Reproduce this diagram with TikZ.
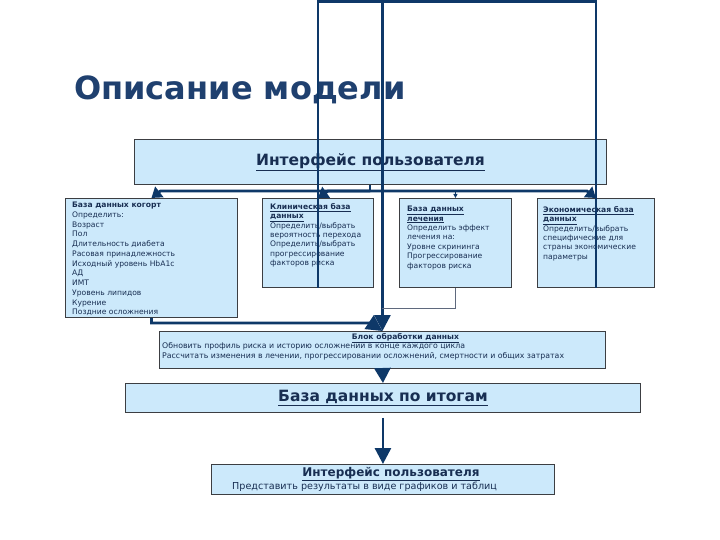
\documentclass[tikz,border=0pt]{standalone}
\usepackage{fontspec}
\setmainfont{DejaVu Sans}
\usetikzlibrary{arrows.meta}
\definecolor{boxfill}{RGB}{204,233,251}
\definecolor{boxline}{RGB}{60,62,66}
\definecolor{navy}{RGB}{14,56,104}
\definecolor{titleblue}{RGB}{31,64,111}
\definecolor{txtblue}{RGB}{24,46,82}
\definecolor{thinline}{RGB}{95,105,125}
\tikzset{
	box/.style={draw=boxline, fill=boxfill, line width=0.9pt, inner sep=0pt, anchor=north west, text=txtblue},
	txt/.style={anchor=north west, align=left, inner sep=0pt, text=txtblue, font=\fontsize{7.6}{9.4}\selectfont},
	conn/.style={draw=navy, line width=2.8pt},
	tip/.style={-{Triangle[width=13pt,length=10pt]}},
	bigtip/.style={-{Triangle[width=16pt,length=16pt]}},
}
\begin{document}
\begin{tikzpicture}[x=1pt,y=-1pt]
	\useasboundingbox (0,0) rectangle (720,540);
	
	\node[anchor=base west, inner sep=0pt, text=titleblue, font=\fontsize{32}{36}\selectfont\bfseries] (title) at (74,100) {Описание модели};
	
	\node[box, minimum width=472pt, minimum height=45pt, font=\fontsize{15.5}{18}\selectfont\bfseries] (ui) at (134,139) {\underline{Интерфейс пользователя}};
	
	\node[box, minimum width=172pt, minimum height=119pt] (cohort) at (65,198) {};
	\node[box, minimum width=111pt, minimum height=89pt] (clin) at (262,198) {};
	\node[box, minimum width=112pt, minimum height=89pt] (treat) at (399,198) {};
	\node[box, minimum width=117pt, minimum height=89pt] (econ) at (537,198) {};
	
	\node[txt, font=\fontsize{7.6}{9.75}\selectfont] (cohorttxt) at ([xshift=7pt,yshift=-4pt]cohort.north west) {\textbf{База данных когорт}\\Определить:\\Возраст\\Пол\\Длительность диабета\\Расовая принадлежность\\Исходный уровень HbA1c\\АД\\ИМТ\\Уровень липидов\\Курение\\Поздние осложнения};
	\node[txt] (clintxt) at ([xshift=8pt,yshift=-5pt]clin.north west) {\textbf{\underline{Клиническая база}}\\\textbf{\underline{данных}}\\Определить/выбрать\\вероятность перехода\\Определить/выбрать\\прогрессирование\\факторов риска};
	\node[txt] (treattxt) at ([xshift=8pt,yshift=-8pt]treat.north west) {\textbf{\underline{База данных}}\\\textbf{\underline{лечения}}\\Определить эффект\\лечения на:\\Уровне скрининга\\Прогрессирование\\факторов риска};
	\node[txt] (econtxt) at ([xshift=6pt,yshift=-8pt]econ.north west) {\textbf{\underline{Экономическая база}}\\\textbf{\underline{данных}}\\Определить/выбрать\\специфические для\\страны экономические\\параметры};
	
	\node[box, minimum width=446pt, minimum height=37pt] (block) at (159,331) {};
	\node[txt, anchor=north] (blocktitle) at ([xshift=23pt,yshift=-2pt]block.north) {\textbf{\underline{Блок обработки данных}}};
	\node[txt, font=\fontsize{7.8}{10.5}\selectfont] (blocktxt) at ([xshift=3pt,yshift=-11pt]block.north west) {Обновить профиль риска и историю осложнений в конце каждого цикла\\Рассчитать изменения в лечении, прогрессировании осложнений, смертности и общих затратах};
	
	\node[box, minimum width=515pt, minimum height=29pt, font=\fontsize{15.5}{18}\selectfont\bfseries] (results) at (125,383) {\underline{База данных по итогам}};
	
	\node[box, minimum width=343pt, minimum height=30pt] (final) at (211,464) {};
	\node[txt, anchor=north, font=\fontsize{12}{14}\selectfont\bfseries] (finaltitle) at ([xshift=8pt,yshift=-3pt]final.north) {\underline{Интерфейс пользователя}};
	\node[txt, font=\fontsize{9.6}{11}\selectfont] (finaltxt) at ([xshift=21pt,yshift=-18pt]final.north west) {Представить результаты в виде графиков и таблиц};
	
	% branches under the top interface
	\coordinate (bus) at (370,191);
	\coordinate (top) at (0,1.5);
	\draw[conn] (ui.south -| bus) -- (bus);
	\draw[conn,tip] (bus) -- ([xshift=9pt,yshift=7pt]cohort.north) -- (cohort.north);
	\draw[conn,tip] (bus) -- ([xshift=10pt,yshift=7pt]clin.north) -- (clin.north);
	\draw[conn,tip] (bus) -- ([xshift=-9pt,yshift=7pt]econ.north) -- (econ.north);
	\draw[navy,line width=1pt,-{Triangle[width=4pt,length=4pt]}] (bus -| treat.north) -- (treat.north);
	
	% loops over the top
	\draw[conn] (clin.south) -- (clin.south |- top) -- (econ.south |- top) -- (econ.south);
	\draw[conn,bigtip] (block.north |- top) -- (block.north);
	
	\draw[thinline,line width=1pt] (treat.south) |- ([yshift=23pt]block.north);
	\draw[conn,bigtip] (cohort.south) |- ([xshift=-12pt,yshift=8pt]block.north) -- (block.north);
	
	\draw[conn,-{Triangle[width=16pt,length=15pt]}] (block.south) -- (results.north);
	\draw[conn,bigtip,shorten <=5pt] (results.south) -- (final.north);
\end{tikzpicture}
\end{document}
